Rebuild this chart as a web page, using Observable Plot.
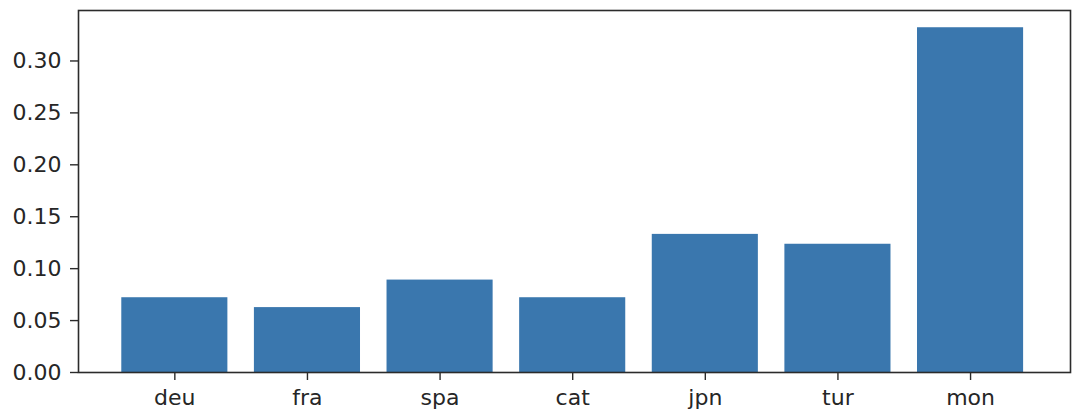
<!DOCTYPE html>
<html>
<head>
<meta charset="utf-8">
<script src="https://cdn.jsdelivr.net/npm/d3@7"></script>
<script src="https://cdn.jsdelivr.net/npm/@observablehq/plot@0.6"></script>
<style>
  html, body { margin: 0; padding: 0; background: #fff; }
  #chart svg { display: block; }
</style>
</head>
<body>
<div id="chart"></div>
<script>
const languages = ["deu", "fra", "spa", "cat", "jpn", "tur", "mon"];
const values = [0.072, 0.0625, 0.089, 0.072, 0.133, 0.1235, 0.332];
const yTicks = [0, 0.05, 0.10, 0.15, 0.20, 0.25, 0.30];

const data = languages.map((lang, i) => ({lang, value: values[i]}));

const chart = Plot.plot({
  width: 1086,
  height: 418,
  marginLeft: 78,
  marginRight: 16,
  marginTop: 10,
  marginBottom: 46,
  style: {fontFamily: "DejaVu Sans", fontSize: "22px", color: "#262626", background: "#fff"},
  x: {domain: languages, paddingInner: 0.2, paddingOuter: 0.34, align: 0.48, round: false, label: null},
  y: {domain: [0, d3.max(values) * 1.05], label: null},
  marks: [
    Plot.barY(data, {x: "lang", y: "value", fill: "#3a77ae"}),
    Plot.frame({stroke: "#2b2b2b", strokeWidth: 1.6}),
    Plot.axisX({tickSize: 8, tickPadding: 9, fontSize: 22, label: null, stroke: "#2b2b2b", strokeWidth: 1.4}),
    Plot.axisY({ticks: yTicks, tickFormat: d3.format(".2f"), tickSize: 8, tickPadding: 9, fontSize: 22, label: null, stroke: "#2b2b2b", strokeWidth: 1.4})
  ]
});
document.getElementById("chart").append(chart);
</script>
</body>
</html>
